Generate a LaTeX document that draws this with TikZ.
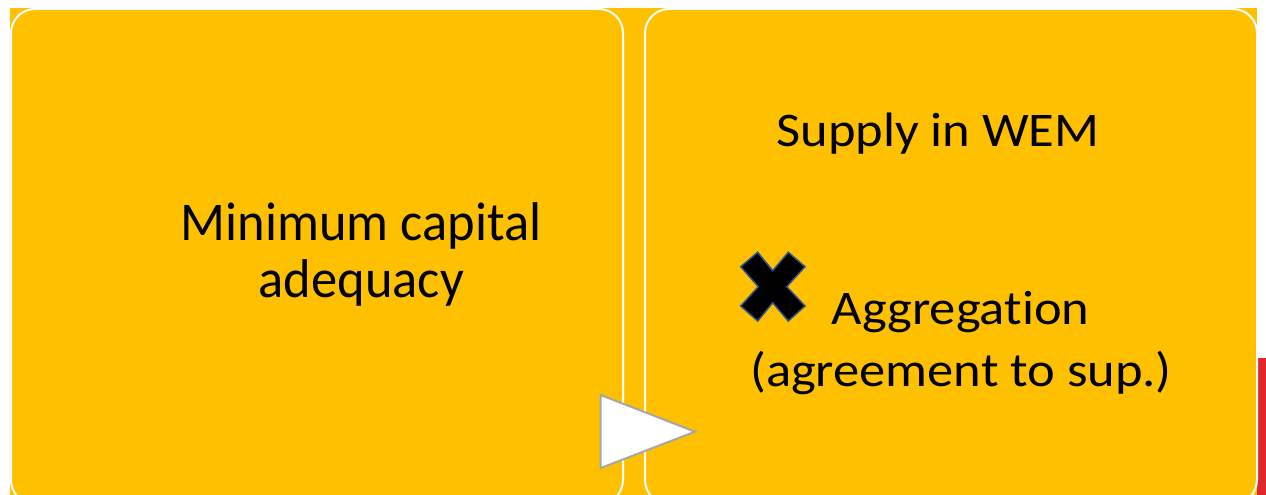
\documentclass[tikz,border=0pt]{standalone}
\usepackage{fontspec}
\setmainfont{Carlito}[Ligatures=NoCommon]
\definecolor{gold}{HTML}{FFC000}
\definecolor{redbar}{HTML}{E0282C}
\definecolor{trigray}{HTML}{A6A6A6}
\definecolor{xblue}{HTML}{2F528F}
\tikzset{
  panel/.style={draw=white, line width=2pt, fill=gold, rounded corners=24pt,
    minimum width=612pt, minimum height=495pt, anchor=north west, inner sep=0pt},
  bigtext/.style={anchor=base, inner sep=0pt, font=\fontsize{52.5}{60}\selectfont, text=black},
}
\begin{document}
\begin{tikzpicture}[x=1pt,y=-1pt]
\useasboundingbox (0,0) rectangle (1266,495);
\clip (0,0) rectangle (1266,495);
\fill[white] (0,0) rectangle (1266,495);
\fill[gold] (10,8) rectangle (1257,495);
\fill[redbar] (1257.3,358) rectangle (1266,495);
\node[panel] (b1) at (10,8) {};
\node[panel] (b2) at (644,8) {};
% triangle between boxes
\draw[fill=white, draw=trigray, line width=2pt, line join=miter]
  (600.7,395) -- (695,431.7) -- (600.7,468) -- cycle;
% texts
\node[bigtext] (t1) at (361,240) {\scalebox{1}[1.04]{Minimum capital}};
\node[bigtext] (t2) at (361.3,297) {\scalebox{1}[1.04]{adequacy}};
\node[bigtext] (t3) at (938,146.7) {\scalebox{1}[0.92]{Supply in WEM}};
\node[bigtext] (t4) at (960.5,324) {\scalebox{1}[0.92]{Aggregation}};
\node[bigtext] (t5) at (961,386) {\scalebox{1}[0.92]{(agreement to sup.)}};
% cross mark
\draw[fill=black, draw=xblue, line width=1.5pt, line join=miter]
  (757.7,252.3) -- (772.7,270.7) -- (788.3,252.3) -- (805,266.7) -- (786.7,286.7)
  -- (805,306) -- (788.3,321) -- (772.7,302.7) -- (757.7,321) -- (740.7,306)
  -- (758.3,286.7) -- (740.7,266.7) -- cycle;
\end{tikzpicture}
\end{document}
